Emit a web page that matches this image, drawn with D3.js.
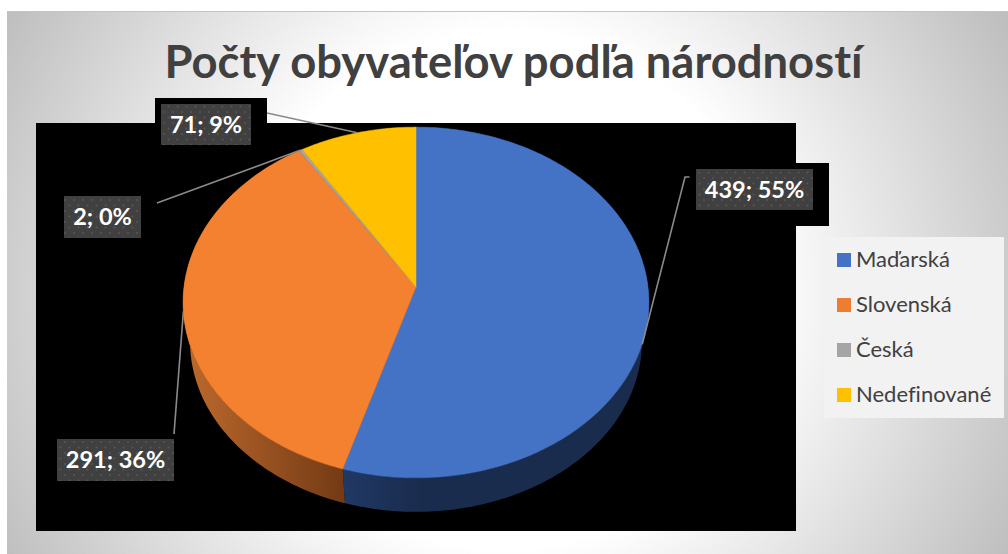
<!DOCTYPE html>
<html>
<head>
<meta charset="utf-8">
<script src="https://cdn.jsdelivr.net/npm/d3@7"></script>
<style>
  html, body { margin: 0; padding: 0; background: #fff; overflow: hidden; }
  svg { display: block; }
  text { font-family: Lato, "Open Sans", sans-serif; font-variant-ligatures: none; }
</style>
</head>
<body>
<svg id="chart" width="1008" height="554"></svg>
<script>
// data
const chartTitle = "Počty obyvateľov podľa národností";
const categories = ["Maďarská", "Slovenská", "Česká", "Nedefinované"];
const counts = [439, 291, 2, 71];
const percents = [55, 36, 0, 9];

// colours per category
const topColors = ["#4472c4", "#f3812f", "#a5a5a5", "#ffc000"];
const legendColors = ["#4472c4", "#ed7d31", "#a5a5a5", "#ffc000"];

// label boxes: [x, y, w, h], and where the leader leaves the box
const labelBoxes = [[696, 169, 117, 41], [57, 439, 117, 42], [64, 196, 77, 42], [161, 104, 90, 41]];
const leaderStarts = [[[689.5, 177], [685, 177]], [[174, 434]], [[157, 203]], [[267, 113]]];
const leaderFrac = [0.552, 0.5, 0.5, 0.5];

const svg = d3.select("#chart");
const defs = svg.append("defs");

// page background
const bg = defs.append("radialGradient").attr("id", "bg")
    .attr("gradientUnits", "userSpaceOnUse")
    .attr("cx", 505).attr("cy", 290).attr("r", 575);
bg.append("stop").attr("offset", 0.45).attr("stop-color", "#ffffff");
bg.append("stop").attr("offset", 1).attr("stop-color", "#bdbdbd");

const dots = defs.append("pattern").attr("id", "dots")
    .attr("patternUnits", "userSpaceOnUse").attr("width", 9).attr("height", 11);
dots.append("rect").attr("width", 9).attr("height", 11).attr("fill", "#404040");
dots.append("circle").attr("cx", 2).attr("cy", 2).attr("r", 1).attr("fill", "#575757");
dots.append("circle").attr("cx", 6.5).attr("cy", 7.5).attr("r", 1).attr("fill", "#575757");

const sideOrange = defs.append("linearGradient").attr("id", "side1")
    .attr("gradientUnits", "userSpaceOnUse").attr("x1", 184).attr("x2", 345).attr("y1", 0).attr("y2", 0);
sideOrange.append("stop").attr("offset", 0).attr("stop-color", "#bd6a2c");
sideOrange.append("stop").attr("offset", 1).attr("stop-color", "#733a15");

const sideBlue = defs.append("linearGradient").attr("id", "side0")
    .attr("gradientUnits", "userSpaceOnUse").attr("x1", 345).attr("x2", 420).attr("y1", 0).attr("y2", 0);
sideBlue.append("stop").attr("offset", 0).attr("stop-color", "#203864");
sideBlue.append("stop").attr("offset", 1).attr("stop-color", "#1a2c4e");

svg.append("rect").attr("x", 7).attr("y", 11).attr("width", 1001).attr("height", 543).attr("fill", "url(#bg)");
svg.append("line").attr("x1", 7).attr("x2", 1008).attr("y1", 11.5).attr("y2", 11.5).attr("stroke", "#c4c4c4");

// black plot area, it also sits behind two of the labels
[[36, 123, 760, 408], [155, 98, 112, 30], [790, 163, 39, 63]].forEach(r => {
    svg.append("rect").attr("x", r[0]).attr("y", r[1]).attr("width", r[2]).attr("height", r[3]).attr("fill", "#000");
});

svg.append("text").attr("x", 513.5).attr("y", 78).attr("text-anchor", "middle")
    .attr("font-size", 45.4).attr("font-weight", 700).attr("fill", "#404040")
    .text(chartTitle);

// pie in perspective: unit circle through a projective map
const PIE_X = 416, PIE_Y = 287, PIE_RX = 232, PIE_RY = 174, PERSP = -0.0883;
const DEPTH_Y = 326.7, DEPTH_SCALE = 0.97;

function project(angle, level) {
    const u = Math.sin(angle), v = -Math.cos(angle);
    const w = 1 + PERSP * v;
    if (level === 0) return [PIE_X + PIE_RX * u / w, PIE_Y + PIE_RY * v / w];
    return [PIE_X + DEPTH_SCALE * PIE_RX * u / w, DEPTH_Y + DEPTH_SCALE * PIE_RY * v / w];
}

const arcsData = d3.pie().sort(null).value(d => d)(counts);
const line = d3.line();

function arcPoints(d, level) {
    const n = Math.max(2, Math.ceil((d.endAngle - d.startAngle) * 60));
    return d3.range(n + 1).map(i => project(d.startAngle + (d.endAngle - d.startAngle) * i / n, level));
}

// side wall first, top face goes over it
svg.append("g").selectAll("path").data(arcsData).join("path")
    .attr("d", d => line(arcPoints(d, 0).concat(arcPoints(d, 1).reverse())) + "Z")
    .attr("fill", (d, i) => i < 2 ? `url(#side${i})` : "none");

svg.append("g").selectAll("path").data(arcsData).join("path")
    .attr("d", d => line([[PIE_X, PIE_Y]].concat(arcPoints(d, 0))) + "Z")
    .attr("fill", (d, i) => topColors[i])
    .attr("stroke", (d, i) => topColors[i])
    .attr("stroke-width", 0.5);

// leaders
svg.append("g").selectAll("path").data(arcsData).join("path")
    .attr("d", (d, i) => {
        const a = d.startAngle + (d.endAngle - d.startAngle) * leaderFrac[i];
        return line(leaderStarts[i].concat([project(a, 0)]));
    })
    .attr("fill", "none").attr("stroke", "#8a8a8a").attr("stroke-width", 1.6);

// data labels
const labels = svg.append("g").selectAll("g").data(categories).join("g");
labels.append("rect")
    .attr("x", (d, i) => labelBoxes[i][0]).attr("y", (d, i) => labelBoxes[i][1])
    .attr("width", (d, i) => labelBoxes[i][2]).attr("height", (d, i) => labelBoxes[i][3])
    .attr("fill", "url(#dots)");
labels.append("text")
    .attr("x", (d, i) => labelBoxes[i][0] + labelBoxes[i][2] / 2)
    .attr("y", (d, i) => labelBoxes[i][1] + labelBoxes[i][3] / 2 + 8)
    .attr("text-anchor", "middle").attr("font-size", 23.5).attr("font-weight", 700).attr("fill", "#fff")
    .text((d, i) => `${counts[i]}; ${percents[i]}%`);

// legend
svg.append("rect").attr("x", 824).attr("y", 237).attr("width", 180).attr("height", 181).attr("fill", "#f2f2f2");
const legendY = d3.scalePoint().domain(categories).range([260, 395]);
const legend = svg.append("g").selectAll("g").data(categories).join("g")
    .attr("transform", d => `translate(0,${legendY(d)})`);
legend.append("rect").attr("x", 837).attr("y", -7).attr("width", 14).attr("height", 14)
    .attr("fill", (d, i) => legendColors[i]);
legend.append("text").attr("x", 856).attr("y", 6.5).attr("font-size", 22).attr("fill", "#404040").text(d => d);
</script>
</body>
</html>
